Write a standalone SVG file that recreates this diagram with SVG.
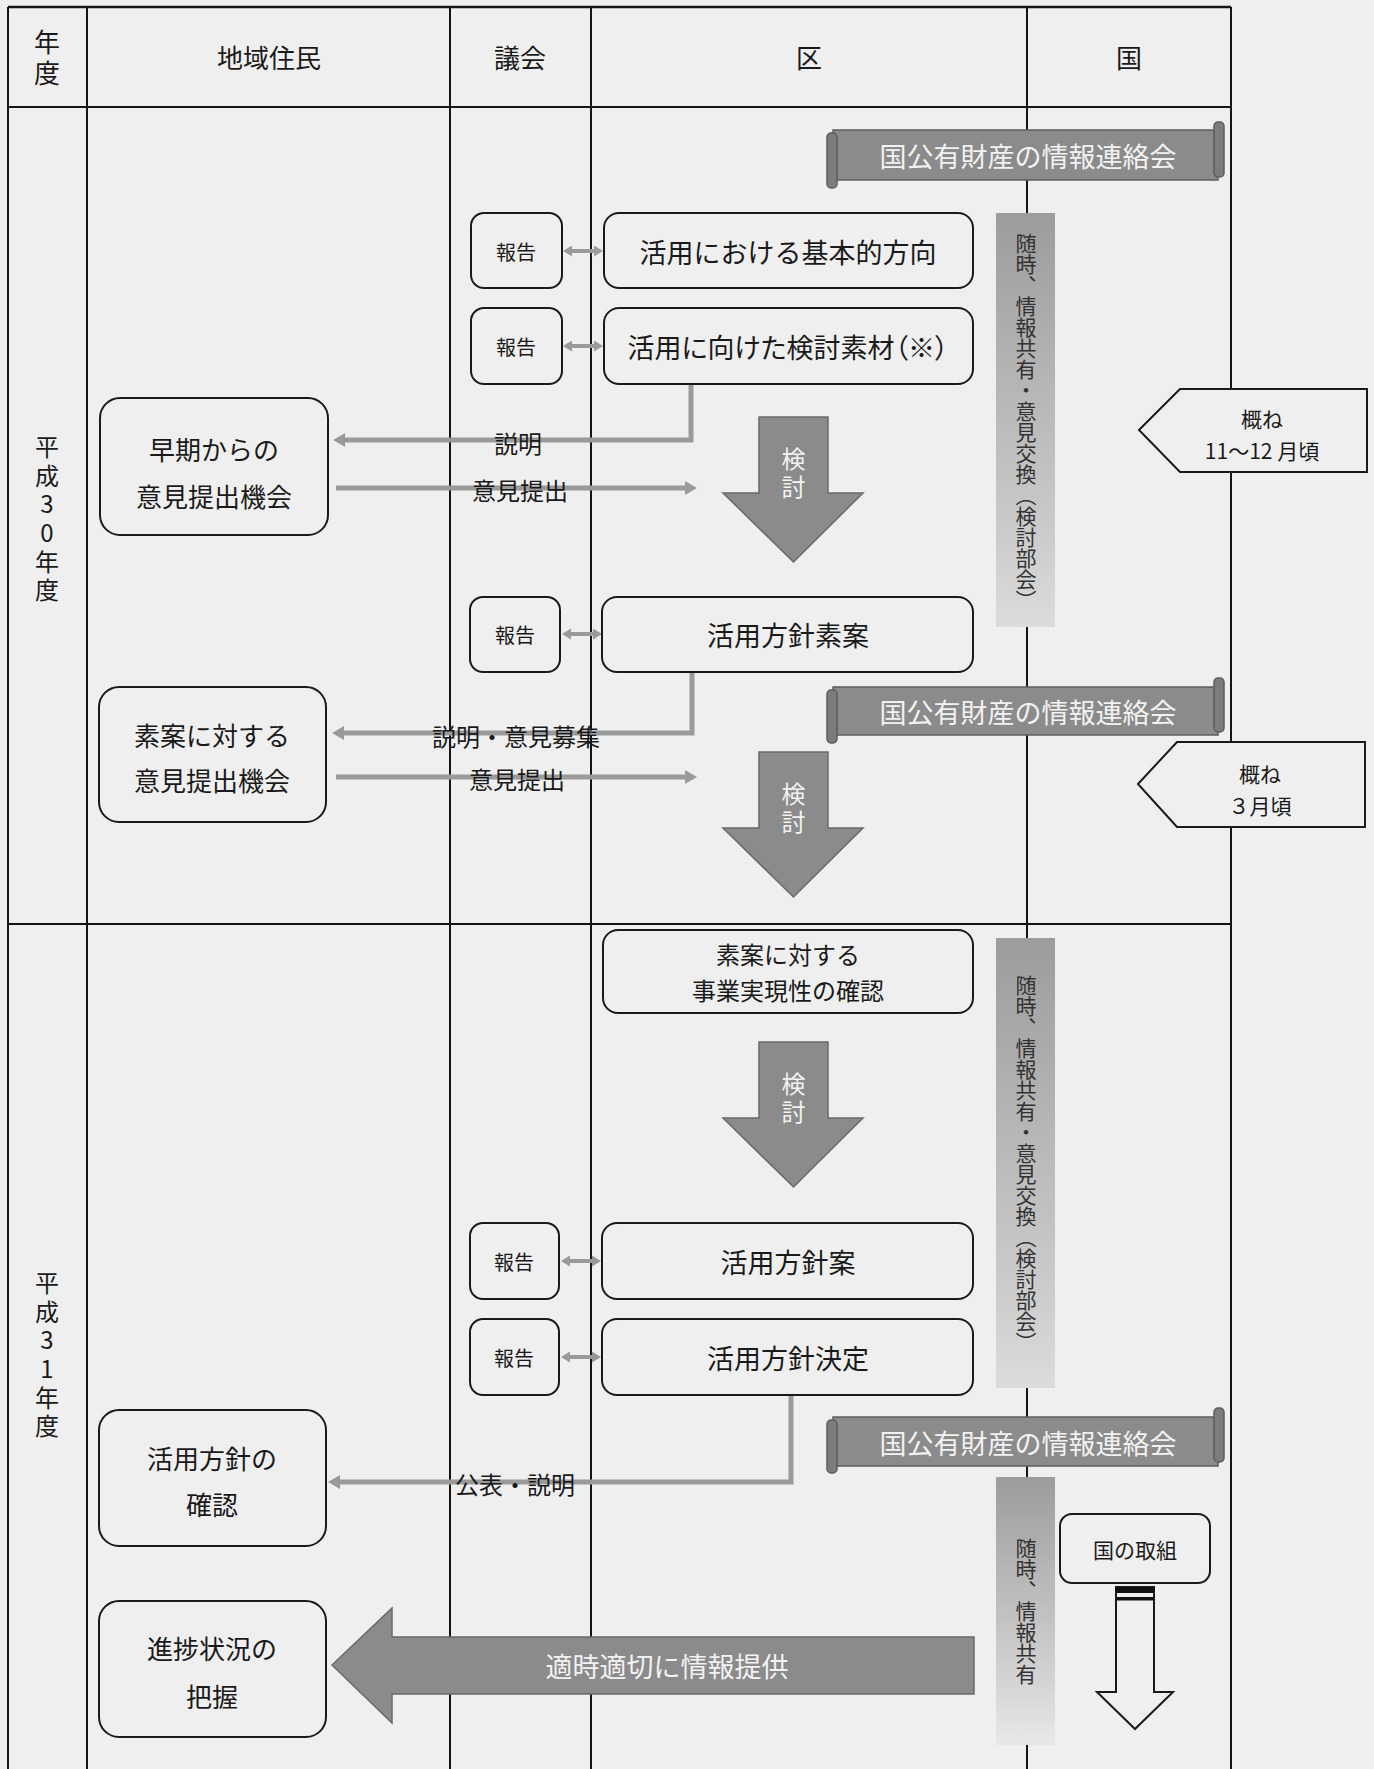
<svg xmlns="http://www.w3.org/2000/svg" width="1374" height="1769" viewBox="0 0 1374 1769">
<style>
text{font-family:"Noto Sans CJK JP","Noto Sans",sans-serif;fill:#1a1a1a;dominant-baseline:central;text-anchor:middle}
.grid{stroke:#151515;stroke-width:2;fill:none}
.box{fill:none;stroke:#1a1a1a;stroke-width:2}
.hdr{font-size:26px}
.main{font-size:27px}
.side{font-size:26px}
.two{font-size:24px}
.rep{font-size:20px}
.lbl{font-size:24px}
.conn{stroke:#9a9a9a;stroke-width:5;fill:none}
.dbl{stroke:#9a9a9a;stroke-width:4;fill:none}
.garrow{fill:#8b8b8b;stroke:#6a6a6a;stroke-width:1.5}
.wtxt{fill:#f2f2f2}
.banner{fill:#8b8b8b;stroke:#5e5e5e;stroke-width:1.5}
.roll{fill:#7c7c7c;stroke:#5e5e5e;stroke-width:1.5}
.vt{writing-mode:vertical-rl;font-size:21px;text-anchor:start;fill:#333}
.vu{writing-mode:vertical-rl;text-orientation:upright;text-anchor:start}
.yr{font-size:24px;letter-spacing:4.6px}
.hv{font-size:26px;letter-spacing:5px}
.kt{font-size:24px;letter-spacing:4px}
.pent{fill:#efefef;stroke:#1a1a1a;stroke-width:2}
.small{font-size:21px}
.palt{font-feature-settings:"palt"}
</style>
<defs>
<marker id="ah" markerUnits="userSpaceOnUse" markerWidth="14" markerHeight="14" refX="1" refY="7" orient="auto"><path d="M0,0 L12,7 L0,14 z" fill="#9a9a9a"/></marker>
<marker id="ah2" markerUnits="userSpaceOnUse" markerWidth="10" markerHeight="11" refX="1" refY="5.5" orient="auto-start-reverse"><path d="M0,0 L9,5.5 L0,11 z" fill="#9a9a9a"/></marker>
<linearGradient id="bar" x1="0" y1="0" x2="0" y2="1"><stop offset="0" stop-color="#9c9c9c"/><stop offset="0.8" stop-color="#cdcdcd"/><stop offset="1" stop-color="#dcdcdc"/></linearGradient>
<linearGradient id="bar3" x1="0" y1="0" x2="0" y2="1"><stop offset="0" stop-color="#9c9c9c"/><stop offset="0.7" stop-color="#cfcfcf"/><stop offset="1" stop-color="#e8e8e8"/></linearGradient>
</defs>
<rect width="1374" height="1769" fill="#efefef"/>

<g id="table">
<line class="grid" x1="8" y1="7" x2="1231" y2="7" style="stroke-width:2.5"/>
<line class="grid" x1="8" y1="107" x2="1231" y2="107"/>
<line class="grid" x1="8" y1="924" x2="1231" y2="924"/>
<line class="grid" x1="8" y1="7" x2="8" y2="1769"/>
<line class="grid" x1="87" y1="7" x2="87" y2="1769"/>
<line class="grid" x1="450" y1="7" x2="450" y2="1769"/>
<line class="grid" x1="591" y1="7" x2="591" y2="1769"/>
<line class="grid" x1="1027" y1="7" x2="1027" y2="1769"/>
<line class="grid" x1="1231" y1="7" x2="1231" y2="1769"/>
</g>

<g id="headers">
<text class="vu hv" x="47" y="29">年度</text>
<text class="hdr" x="269" y="56">地域住民</text>
<text class="hdr" x="520" y="56">議会</text>
<text class="hdr" x="809" y="56">区</text>
<text class="hdr" x="1129" y="56">国</text>
</g>

<g id="year-h30">
<text class="vu yr" x="47" y="435">平成30年度</text>
</g>
<g id="year-h31">
<text class="vu yr" x="47" y="1271">平成31年度</text>
</g>

<g id="connectors">
<path class="conn" d="M691,384 V440 H344" marker-end="url(#ah)"/>
<path class="conn" d="M336,488 H686" marker-end="url(#ah)"/>
<path class="conn" d="M692,672 V733 H343" marker-end="url(#ah)"/>
<path class="conn" d="M336,777 H686" marker-end="url(#ah)"/>
<path class="conn" d="M791,1395 V1482 H339" marker-end="url(#ah)"/>
<line class="dbl" x1="571" y1="251" x2="595" y2="251" marker-start="url(#ah2)" marker-end="url(#ah2)"/>
<line class="dbl" x1="571" y1="346" x2="595" y2="346" marker-start="url(#ah2)" marker-end="url(#ah2)"/>
<line class="dbl" x1="570" y1="634" x2="594" y2="634" marker-start="url(#ah2)" marker-end="url(#ah2)"/>
<line class="dbl" x1="569" y1="1261" x2="593" y2="1261" marker-start="url(#ah2)" marker-end="url(#ah2)"/>
<line class="dbl" x1="569" y1="1357" x2="593" y2="1357" marker-start="url(#ah2)" marker-end="url(#ah2)"/>
<text class="lbl" x="518" y="442">説明</text>
<text class="lbl" x="520" y="489">意見提出</text>
<text class="lbl" x="516" y="735">説明・意見募集</text>
<text class="lbl" x="517" y="778">意見提出</text>
<text class="lbl" x="515" y="1483">公表・説明</text>
</g>

<g id="banner1">
<rect class="banner" x="833" y="130" width="385" height="50"/>
<rect class="roll" x="827" y="133" width="10" height="55" rx="4"/>
<rect class="roll" x="1214" y="122" width="10" height="55" rx="4"/>
<text class="main wtxt" x="1028" y="155">国公有財産の情報連絡会</text>
</g>
<g id="banner2">
<rect class="banner" x="833" y="687" width="385" height="48"/>
<rect class="roll" x="827" y="690" width="10" height="53" rx="4"/>
<rect class="roll" x="1214" y="678" width="10" height="54" rx="4"/>
<text class="main wtxt" x="1028" y="711">国公有財産の情報連絡会</text>
</g>
<g id="banner3">
<rect class="banner" x="833" y="1417" width="385" height="49"/>
<rect class="roll" x="827" y="1420" width="10" height="53" rx="4"/>
<rect class="roll" x="1214" y="1408" width="10" height="54" rx="4"/>
<text class="main wtxt" x="1028" y="1442">国公有財産の情報連絡会</text>
</g>

<g id="bar1">
<rect x="996" y="213" width="59" height="414" fill="url(#bar)"/>
<text class="vt" x="1026" y="233">随時、情報共有・意見交換（検討部会）</text>
</g>
<g id="bar2">
<rect x="996" y="938" width="59" height="450" fill="url(#bar)"/>
<text class="vt" x="1026" y="975">随時、情報共有・意見交換（検討部会）</text>
</g>
<g id="bar3g">
<rect x="996" y="1477" width="59" height="268" fill="url(#bar3)"/>
<text class="vt" x="1026" y="1538">随時、情報共有</text>
</g>

<g id="when1">
<polygon class="pent" points="1139,430 1180,389 1367,389 1367,472 1180,472"/>
<text class="small" x="1262" y="418">概ね</text>
<text class="small" x="1262" y="450">11～12 月頃</text>
</g>
<g id="when2">
<polygon class="pent" points="1138,784 1177,742 1365,742 1365,827 1177,827"/>
<text class="small" x="1260" y="773">概ね</text>
<text class="small" x="1260" y="805">３月頃</text>
</g>

<g id="report1"><rect class="box" x="471" y="213" width="91" height="75" rx="13"/><text class="rep" x="516" y="251">報告</text></g>
<g id="report2"><rect class="box" x="471" y="308" width="91" height="76" rx="13"/><text class="rep" x="516" y="346">報告</text></g>
<g id="report3"><rect class="box" x="470" y="597" width="90" height="75" rx="13"/><text class="rep" x="515" y="634">報告</text></g>
<g id="report5"><rect class="box" x="470" y="1223" width="89" height="76" rx="13"/><text class="rep" x="514" y="1261">報告</text></g>
<g id="report6"><rect class="box" x="470" y="1319" width="89" height="76" rx="13"/><text class="rep" x="514" y="1357">報告</text></g>

<g id="step1"><rect class="box" x="604" y="213" width="369" height="75" rx="15"/><text class="main" x="788" y="251">活用における基本的方向</text></g>
<g id="step2"><rect class="box" x="604" y="308" width="369" height="76" rx="15"/><text class="main palt" x="788" y="346">活用に向けた検討素材（※）</text></g>
<g id="step3"><rect class="box" x="602" y="597" width="371" height="75" rx="15"/><text class="main" x="788" y="634">活用方針素案</text></g>
<g id="step4"><rect class="box" x="603" y="930" width="370" height="83" rx="15"/><text class="two"><tspan x="788" y="953">素案に対する</tspan><tspan x="788" y="989">事業実現性の確認</tspan></text></g>
<g id="step5"><rect class="box" x="602" y="1223" width="371" height="76" rx="15"/><text class="main" x="788" y="1261">活用方針案</text></g>
<g id="step6"><rect class="box" x="602" y="1319" width="371" height="76" rx="15"/><text class="main" x="788" y="1357">活用方針決定</text></g>

<g id="kento1"><path class="garrow" d="M759,417 H828 V493 H863 L793.5,562 L723,493 H759 Z"/><text class="vu kt wtxt" x="793.5" y="447">検討</text></g>
<g id="kento2"><path class="garrow" d="M759,752 H828 V828 H863 L793.5,897 L723,828 H759 Z"/><text class="vu kt wtxt" x="793.5" y="782">検討</text></g>
<g id="kento3"><path class="garrow" d="M759,1042 H828 V1118 H863 L793.5,1187 L723,1118 H759 Z"/><text class="vu kt wtxt" x="793.5" y="1072">検討</text></g>

<g id="resA"><rect class="box" x="100" y="398" width="228" height="137" rx="20"/><text class="side" x="214" y="448">早期からの</text><text class="side" x="214" y="495">意見提出機会</text></g>
<g id="resB"><rect class="box" x="99" y="687" width="227" height="135" rx="20"/><text class="side" x="212" y="734">素案に対する</text><text class="side" x="212" y="779">意見提出機会</text></g>
<g id="resC"><rect class="box" x="99" y="1410" width="227" height="136" rx="20"/><text class="side" x="212" y="1457">活用方針の</text><text class="side" x="212" y="1503">確認</text></g>
<g id="resD"><rect class="box" x="99" y="1601" width="227" height="136" rx="20"/><text class="side" x="212" y="1647">進捗状況の</text><text class="side" x="212" y="1695">把握</text></g>

<g id="info-arrow"><path class="garrow" d="M332,1665 L392,1608 V1637 H974 V1694 H392 V1723 Z"/><text class="main wtxt" x="667" y="1665">適時適切に情報提供</text></g>

<g id="kuni"><rect class="box" x="1060" y="1514" width="150" height="69" rx="12"/><text class="small" x="1135" y="1549">国の取組</text></g>
<g id="kuni-arrow">
<path d="M1116,1587 V1692 H1097 L1135,1729 L1173,1692 H1154 V1587 Z" fill="#efefef" stroke="#1a1a1a" stroke-width="2"/>
<rect x="1116" y="1587" width="38" height="6" fill="#111"/>
<rect x="1116" y="1597" width="38" height="3.5" fill="#111"/>
</g>
</svg>
